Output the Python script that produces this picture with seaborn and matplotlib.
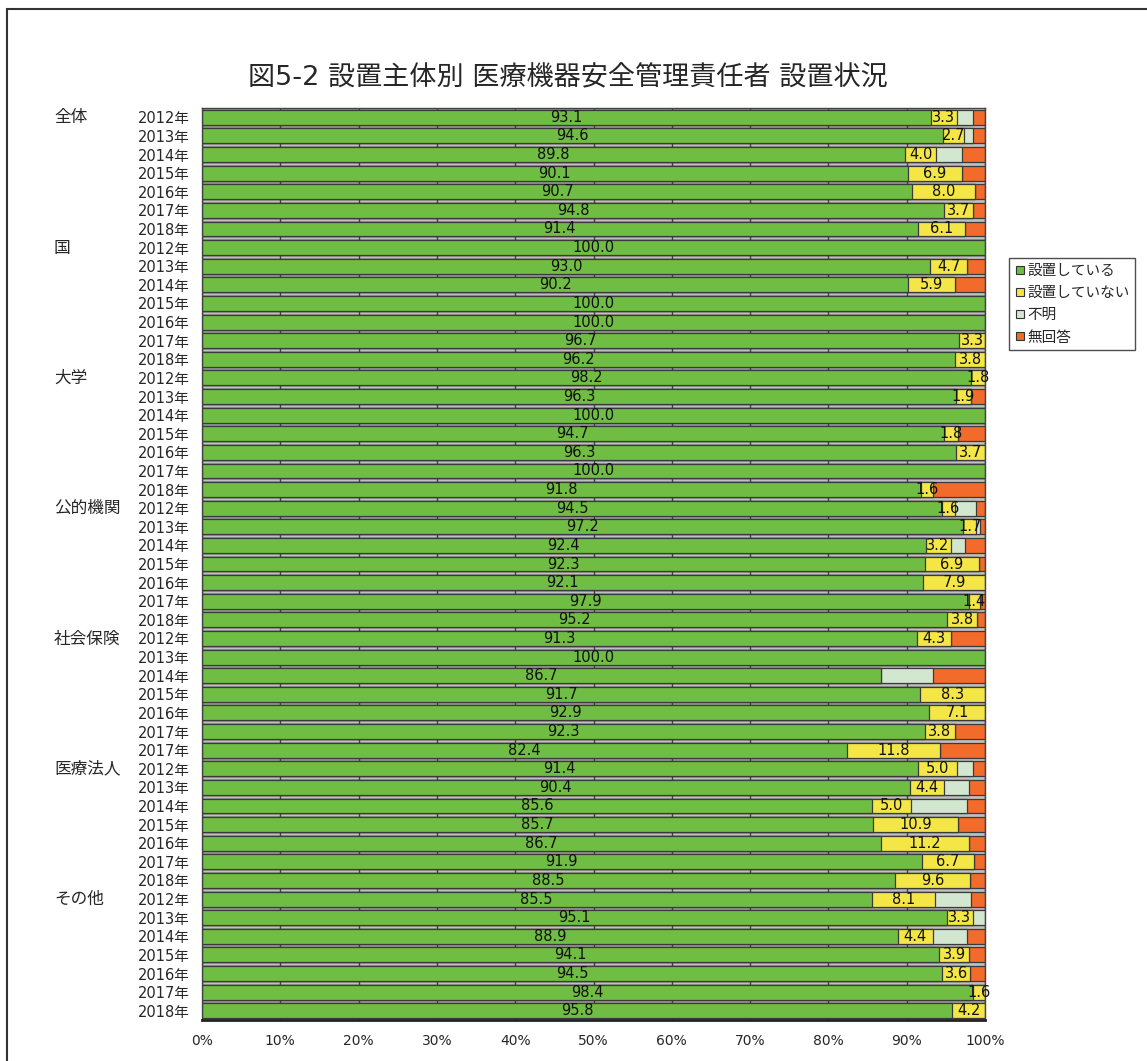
import matplotlib
matplotlib.use("Agg")
import matplotlib.pyplot as plt
import matplotlib.transforms as mtransforms
from matplotlib.patches import Rectangle
import pandas as pd
import seaborn as sns

sns.set_style("white")
plt.rcParams["font.family"] = ["DejaVu Sans", "Noto Sans CJK JP"]

groups = ["全体", "国", "大学", "公的機関", "社会保険", "医療法人", "その他"]
years = [
    ["2012年", "2013年", "2014年", "2015年", "2016年", "2017年", "2018年"],
    ["2012年", "2013年", "2014年", "2015年", "2016年", "2017年", "2018年"],
    ["2012年", "2013年", "2014年", "2015年", "2016年", "2017年", "2018年"],
    ["2012年", "2013年", "2014年", "2015年", "2016年", "2017年", "2018年"],
    ["2012年", "2013年", "2014年", "2015年", "2016年", "2017年", "2017年"],
    ["2012年", "2013年", "2014年", "2015年", "2016年", "2017年", "2018年"],
    ["2012年", "2013年", "2014年", "2015年", "2016年", "2017年", "2018年"],
]

# 設置している
installed = [93.1, 94.6, 89.8, 90.1, 90.7, 94.8, 91.4,
             100.0, 93.0, 90.2, 100.0, 100.0, 96.7, 96.2,
             98.2, 96.3, 100.0, 94.7, 96.3, 100.0, 91.8,
             94.5, 97.2, 92.4, 92.3, 92.1, 97.9, 95.2,
             91.3, 100.0, 86.7, 91.7, 92.9, 92.3, 82.4,
             91.4, 90.4, 85.6, 85.7, 86.7, 91.9, 88.5,
             85.5, 95.1, 88.9, 94.1, 94.5, 98.4, 95.8]
# 設置していない
not_installed = [3.3, 2.7, 4.0, 6.9, 8.0, 3.7, 6.1,
                 0, 4.7, 5.9, 0, 0, 3.3, 3.8,
                 1.8, 1.9, 0, 1.8, 3.7, 0, 1.6,
                 1.6, 1.7, 3.2, 6.9, 7.9, 1.4, 3.8,
                 4.3, 0, 0, 8.3, 7.1, 3.8, 11.8,
                 5.0, 4.4, 5.0, 10.9, 11.2, 6.7, 9.6,
                 8.1, 3.3, 4.4, 3.9, 3.6, 1.6, 4.2]
# 不明
unknown = [2.0, 1.1, 3.2, 0, 0, 0, 0,
           0, 0, 0, 0, 0, 0, 0,
           0, 0, 0, 0, 0, 0, 0,
           2.8, 0.4, 1.8, 0, 0, 0, 0,
           0, 0, 6.6, 0, 0, 0, 0,
           2.0, 3.2, 7.1, 0, 0, 0, 0,
           4.6, 1.6, 4.4, 0, 0, 0, 0]
# 無回答
no_answer = [1.6, 1.6, 3.0, 3.0, 1.3, 1.5, 2.5,
             0, 2.3, 3.9, 0, 0, 0, 0,
             0, 1.8, 0, 3.5, 0, 0, 6.6,
             1.1, 0.7, 2.6, 0.8, 0, 0.7, 1.0,
             4.4, 0, 6.7, 0, 0, 3.9, 5.8,
             1.6, 2.0, 2.3, 3.4, 2.1, 1.4, 1.9,
             1.8, 0, 2.3, 2.0, 1.9, 0, 0]

series_names = ["設置している", "設置していない", "不明", "無回答"]
colors = ["#70BD44", "#F4E646", "#D3E7D0", "#F26B2B"]

year_labels = [y for ys in years for y in ys]
row_ids = [f"r{i:02d}" for i in range(len(year_labels))]

df = pd.DataFrame({
    "row": row_ids,
    "installed": installed,
    "not_installed": not_installed,
    "unknown": unknown,
    "no_answer": no_answer,
})
df["c1"] = df["installed"]
df["c2"] = df["c1"] + df["not_installed"]
df["c3"] = df["c2"] + df["unknown"]
df["c4"] = df["c3"] + df["no_answer"]

fig = plt.figure(figsize=(11.47, 10.61), dpi=100)
ax = fig.add_axes([0.1761, 0.0386, 0.6827, 0.8596])
ax.set_facecolor("#C0C0C0")

# stacked bars: draw cumulative totals from the outermost layer inward
for col, color in zip(["c4", "c3", "c2", "c1"], colors[::-1]):
    sns.barplot(data=df, x=col, y="row", order=row_ids, orient="h",
                color=color, saturation=1, width=0.8,
                edgecolor="#3a3a3a", linewidth=0.9, ax=ax)

# value labels for the first two series
for i, row in df.iterrows():
    if row["installed"] > 0:
        ax.text(row["installed"] / 2, i, f"{row['installed']:.1f}",
                ha="center", va="center", fontsize=10.5, color="#111111")
    if row["not_installed"] > 0:
        ax.text(row["installed"] + row["not_installed"] / 2, i,
                f"{row['not_installed']:.1f}",
                ha="center", va="center", fontsize=10.5, color="#111111")

ax.set_xlim(0, 100)
ax.set_xticks(range(0, 101, 10))
ax.set_xticklabels([f"{v}%" for v in range(0, 101, 10)], fontsize=10)
ax.xaxis.grid(True, color="#404040", linewidth=1.0)
ax.set_axisbelow(True)
ax.tick_params(axis="x", length=0, pad=10)
ax.set_yticks(range(len(year_labels)))
ax.set_yticklabels(year_labels, fontsize=10.5)
ax.tick_params(axis="y", length=0, pad=9)
ax.set_xlabel("")
ax.set_ylabel("")
for side in ["left", "right", "top"]:
    ax.spines[side].set_color("#444444")
    ax.spines[side].set_linewidth(1.0)
ax.spines["bottom"].set_color("#222222")
ax.spines["bottom"].set_linewidth(2.0)

# group names to the left of the year labels
trans = mtransforms.blended_transform_factory(fig.transFigure, ax.transData)
start = 0
for g, ys in zip(groups, years):
    ax.text(0.047, start, g, transform=trans, ha="left", va="center",
            fontsize=12)
    start += len(ys)

fig.suptitle("図5-2 設置主体別 医療機器安全管理責任者 設置状況",
             x=0.495, y=0.938, fontsize=19.5)

handles = [plt.Line2D([], [], marker="s", linestyle="", markersize=6,
                      markerfacecolor=c, markeredgecolor="#333333",
                      markeredgewidth=0.8) for c in colors]
fig.legend(handles, series_names, loc="upper left",
           bbox_to_anchor=(0.877, 0.760), frameon=True, fontsize=10.5,
           handletextpad=0.1, labelspacing=0.5, borderpad=0.35,
           borderaxespad=0.2, fancybox=False, edgecolor="#222222",
           handlelength=0.8)

# outer frame of the chart area
fig.patches.append(Rectangle((0.0061, -0.5), 1.5, 1.4915,
                             transform=fig.transFigure, fill=False,
                             edgecolor="#333333", linewidth=1.5))

fig.savefig("out.png", dpi=100)
